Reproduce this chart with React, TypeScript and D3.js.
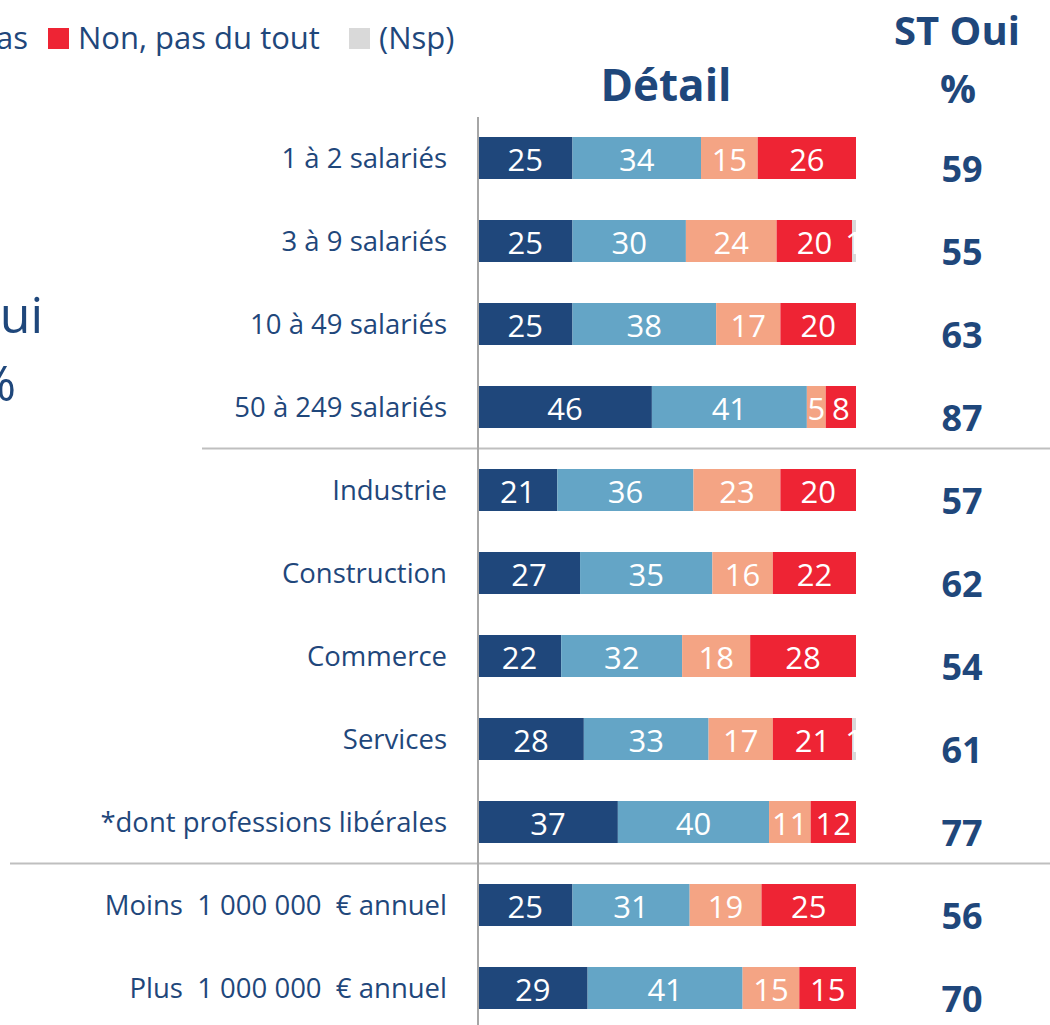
import React from 'react';
import * as d3 from 'd3';

const categories = [
  '1 à 2 salariés',
  '3 à 9 salariés',
  '10 à 49 salariés',
  '50 à 249 salariés',
  'Industrie',
  'Construction',
  'Commerce',
  'Services',
  '*dont professions libérales',
  'Moins  1 000 000  € annuel',
  'Plus  1 000 000  € annuel',
];

const seriesNames = ['Oui, tout à fait', 'Oui, plutôt', 'Non, pas vraiment', 'Non, pas du tout', '(Nsp)'];
const ouiToutAFait = [25, 25, 25, 46, 21, 27, 22, 28, 37, 25, 29];
const ouiPlutot = [34, 30, 38, 41, 36, 35, 32, 33, 40, 31, 41];
const nonPasVraiment = [15, 24, 17, 5, 23, 16, 18, 17, 11, 19, 15];
const nonPasDuTout = [26, 20, 20, 8, 20, 22, 28, 21, 12, 25, 15];
const nsp = [0, 1, 0, 0, 0, 0, 0, 1, 0, 0, 0];
const stOui = [59, 55, 63, 87, 57, 62, 54, 61, 77, 56, 70];

// group breaks: separator after these indices
const separatorsAfter = [3, 8];

const colors = ['#1f477b', '#64a5c6', '#f4a484', '#ee2434', '#d9d9d9'];
const textColor = '#1f477b';
const font = '"Open Sans", sans-serif';

export default function App() {
  const width = 1050;
  const height = 1025;

  const x = d3.scaleLinear().domain([0, 100]).range([478, 856]);
  const y = d3.scaleBand<string>()
    .domain(categories)
    .range([116.5, 1029.5])
    .paddingInner(0.494)
    .paddingOuter(0.247);
  const bw = y.bandwidth();

  const values = [ouiToutAFait, ouiPlutot, nonPasVraiment, nonPasDuTout, nsp];
  const rows = categories.map((c, i) => {
    const vals = values.map(s => s[i]);
    const stack: { key: string; v: number; x0: number; x1: number; color: string }[] = [];
    let acc = 0;
    vals.forEach((v, k) => {
      stack.push({ key: seriesNames[k], v, x0: acc, x1: acc + v, color: colors[k] });
      acc += v;
    });
    return { c, stack };
  });

  return (
    <svg width={width} height={height} style={{ position: 'absolute', left: 0, top: 0, background: '#fff' }}
      fontFamily={font}>
      <defs>
        <clipPath id="barclip">
          <rect x={x(0)} y={0} width={x(100) - x(0)} height={height} />
        </clipPath>
      </defs>

      {/* legend (cropped at the left edge) */}
      <g fill={textColor} fontSize={31}>
        <text x={28} y={49} textAnchor="end">Non, pas</text>
        <rect x={48} y={28} width={21} height={21} fill={colors[3]} />
        <text x={78} y={49}>Non, pas du tout</text>
        <rect x={349} y={28} width={21} height={21} fill={colors[4]} />
        <text x={379} y={49}>(Nsp)</text>
      </g>

      {/* left headline, cropped */}
      <g fill={textColor} fontSize={50}>
        <text x={43} y={333} textAnchor="end">ST Oui</text>
        <text x={16} y={401} textAnchor="end">%</text>
      </g>

      <text x={666} y={101} textAnchor="middle" fill={textColor} fontSize={44} fontWeight="bold">Détail</text>
      <text x={957} y={45} textAnchor="middle" fill={textColor} fontSize={40} fontWeight="bold">ST Oui</text>
      <text x={958} y={103} textAnchor="middle" fill={textColor} fontSize={40} fontWeight="bold">%</text>

      {separatorsAfter.map((idx, i) => {
        const yy = (y(categories[idx])! + bw + y(categories[idx + 1])!) / 2;
        return <line key={idx} x1={i === 0 ? 202 : 10} x2={1050} y1={yy} y2={yy} stroke="#bfbfbf" strokeWidth={2} />;
      })}

      {rows.map((r, i) => {
        const y0 = y(r.c)!;
        const cy = y0 + bw / 2;
        return (
          <g key={r.c}>
            <text x={447} y={cy + 10} textAnchor="end" fill={textColor} fontSize={27.5} style={{ whiteSpace: 'pre' }}>{r.c}</text>
            {r.stack.filter(s => s.v > 0).map(s => (
              <rect key={s.key} x={x(s.x0)} y={y0} width={x(s.x1) - x(s.x0)} height={bw} fill={s.color} />
            ))}
            <g clipPath="url(#barclip)">
              {r.stack.filter(s => s.v > 0).map(s => (
                <text key={s.key} x={(x(s.x0) + x(s.x1)) / 2} y={cy + 12.5} textAnchor="middle" fill="#fff" fontSize={31}>{s.v}</text>
              ))}
            </g>
            <text x={962} y={cy + 24} textAnchor="middle" fill={textColor} fontSize={36} fontWeight="bold">{stOui[i]}</text>
          </g>
        );
      })}

      <line x1={478} x2={478} y1={117} y2={1025} stroke="#a6a6a6" strokeWidth={2} />
    </svg>
  );
}
